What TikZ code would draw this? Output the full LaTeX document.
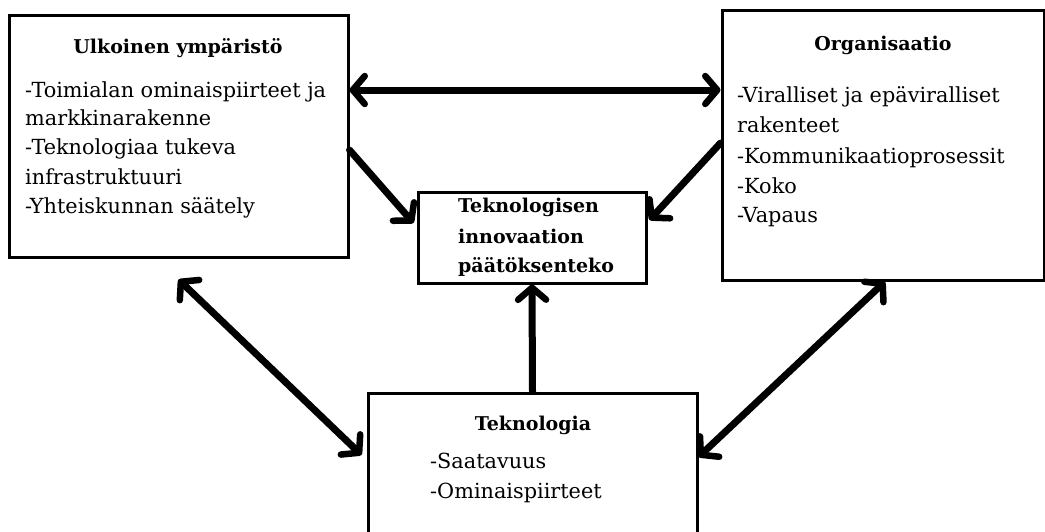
\documentclass[tikz,border=0pt]{standalone}
\usepackage{fontspec}
\setmainfont{DejaVu Serif}
\usetikzlibrary{arrows.meta}
\tikzset{
  box/.style={draw=black, line width=3pt, fill=white, inner sep=0pt},
  txt/.style={anchor=base west, inner sep=0pt, font=\fontsize{20.8}{25}\selectfont},
  ttl/.style={anchor=base, inner sep=0pt, font=\fontsize{19}{24}\selectfont\bfseries},
  bold/.style={anchor=base west, inner sep=0pt, font=\fontsize{19}{24}\selectfont\bfseries},
  tip/.style={Straight Barb[length=12pt,width=28pt,line width=6.5pt,round]},
  conn/.style={line width=7pt, -{Straight Barb[length=12pt,width=28pt,line width=6.5pt,round]}, line cap=round},
  dconn/.style={line width=7pt, {Straight Barb[length=12pt,width=28pt,line width=6.5pt,round]}-{Straight Barb[length=12pt,width=28pt,line width=6.5pt,round]}, line cap=round}
}
\begin{document}
\begin{tikzpicture}[x=1pt,y=-1pt]
\useasboundingbox (0,0) rectangle (1045,531);
\clip (0,0) rectangle (1045,531);
% boxes
\node[box, minimum width=339pt, minimum height=242pt] (ext) at (178.5,136) {};
\node[box, minimum width=322pt, minimum height=270pt] (org) at (883,145) {};
\node[box, minimum width=228pt, minimum height=91pt] (dec) at (532,237.5) {};
\node[box, minimum width=329pt, minimum height=167pt] (tech) at (532.5,476.5) {};
% texts: external environment
\node[ttl] (extT) at (178,53) {Ulkoinen ympäristö};
\node[txt] (ext1) at (25,97) {-Toimialan ominaispiirteet ja};
\node[txt] (ext2) at (25,125) {markkinarakenne};
\node[txt] (ext3) at (25,154) {-Teknologiaa tukeva};
\node[txt] (ext4) at (25,184) {infrastruktuuri};
\node[txt] (ext5) at (25,213) {-Yhteiskunnan säätely};
% organisation
\node[ttl] (orgT) at (883,50) {Organisaatio};
\node[txt] (org1) at (737,102) {-Viralliset ja epäviralliset};
\node[txt] (org2) at (737,132) {rakenteet};
\node[txt] (org3) at (737,163) {-Kommunikaatioprosessit};
\node[txt] (org4) at (737,193) {-Koko};
\node[txt] (org5) at (737,222) {-Vapaus};
% decision
\node[bold] (dec1) at (458,212) {Teknologisen};
\node[bold] (dec2) at (458,243) {innovaation};
\node[bold] (dec3) at (458,272) {päätöksenteko};
% technology
\node[ttl] (techT) at (533,430) {Teknologia};
\node[txt] (tech1) at (430,468) {-Saatavuus};
\node[txt] (tech2) at (430,498) {-Ominaispiirteet};
% connectors
\draw[dconn] ([yshift=46pt]ext.east) -- ([yshift=55pt]org.west);
\draw[conn] ([yshift=-14pt]ext.east) -- ([xshift=-3pt,yshift=14.5pt]dec.west);
\draw[conn] ([yshift=2pt]org.west) -- ([xshift=2pt,yshift=17.5pt]dec.east);
\draw[conn] (tech.north) -- (dec.south);
\draw[dconn] ([yshift=-21pt]ext.south) -- ([xshift=-5pt,yshift=21.5pt]tech.west);
\draw[dconn] ([xshift=2pt]org.south) -- ([yshift=19.5pt]tech.east);
\end{tikzpicture}
\end{document}
